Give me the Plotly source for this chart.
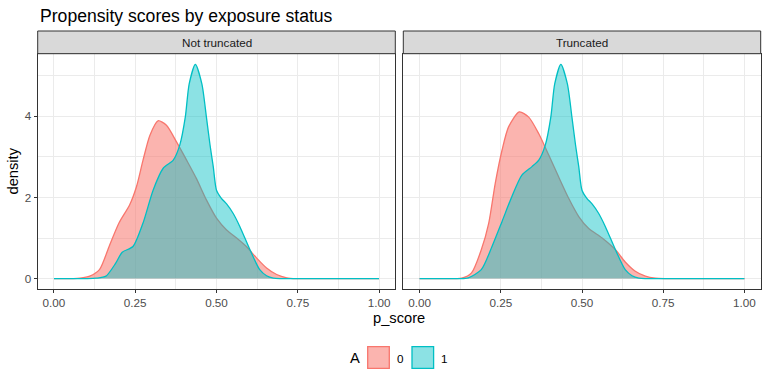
import plotly.graph_objects as go

# ---- data ----
panels = ["Not truncated", "Truncated"]
groups = ["0", "1"]

nt0_x = [0, 0.06, 0.08, 0.11, 0.14, 0.17, 0.20, 0.233, 0.254, 0.274, 0.295, 0.32, 0.346, 0.377, 0.408, 0.438, 0.469, 0.50, 0.531, 0.562, 0.592, 0.623, 0.654, 0.685, 0.716, 0.746, 0.78, 1.0]
nt0_y = [0, 0, 0.01, 0.06, 0.22, 0.80, 1.37, 1.82, 2.27, 2.92, 3.53, 3.89, 3.78, 3.37, 2.92, 2.47, 1.94, 1.49, 1.20, 1.00, 0.79, 0.51, 0.26, 0.10, 0.02, 0, 0, 0]

nt1_x = [0, 0.10, 0.13, 0.16, 0.19, 0.21, 0.243, 0.274, 0.305, 0.336, 0.367, 0.387, 0.404, 0.416, 0.435, 0.455, 0.469, 0.48, 0.49, 0.50, 0.515, 0.531, 0.551, 0.572, 0.603, 0.633, 0.654, 0.675, 0.70, 1.0]
nt1_y = [0, 0, 0.01, 0.06, 0.38, 0.65, 0.79, 1.37, 2.18, 2.72, 2.92, 3.29, 3.98, 4.80, 5.28, 4.80, 3.98, 3.30, 2.76, 2.18, 1.98, 1.84, 1.61, 1.28, 0.71, 0.22, 0.07, 0.01, 0, 0]

t0_x = [0, 0.11, 0.13, 0.16, 0.19, 0.213, 0.233, 0.254, 0.274, 0.307, 0.336, 0.367, 0.398, 0.428, 0.459, 0.49, 0.52, 0.562, 0.603, 0.633, 0.664, 0.695, 0.726, 0.76, 1.0]
t0_y = [0, 0, 0.01, 0.14, 0.71, 1.37, 2.35, 3.17, 3.74, 4.11, 3.98, 3.57, 3.04, 2.51, 1.98, 1.53, 1.24, 1.00, 0.71, 0.41, 0.18, 0.06, 0.01, 0, 0]

t1_x = [0, 0.12, 0.15, 0.19, 0.223, 0.254, 0.284, 0.315, 0.346, 0.367, 0.387, 0.404, 0.416, 0.435, 0.455, 0.469, 0.48, 0.49, 0.50, 0.515, 0.531, 0.551, 0.572, 0.603, 0.633, 0.654, 0.675, 0.70, 1.0]
t1_y = [0, 0, 0.02, 0.22, 0.79, 1.41, 2.02, 2.55, 2.76, 2.92, 3.29, 3.98, 4.80, 5.28, 4.80, 3.98, 3.30, 2.76, 2.18, 1.98, 1.84, 1.61, 1.28, 0.71, 0.22, 0.07, 0.01, 0, 0]

x_ticks = [0, 0.25, 0.5, 0.75, 1.0]
x_tick_labels = ["0.00", "0.25", "0.50", "0.75", "1.00"]
y_ticks = [0, 2, 4]

line_colors = {"0": "#F8766D", "1": "#00BFC4"}
fill_colors = {"0": "rgba(248,118,109,0.55)", "1": "rgba(0,191,196,0.45)"}

FONT = "Liberation Sans, Arial, sans-serif"
W, H = 768, 384
def px(x): return x / W
def py(y): return 1 - y / H

# panel geometry (pixels)
panel_top, panel_bot = 53.7, 289.3
strip_top = 31.0
left_dom = [px(37.7), px(395.3)]
right_dom = [px(403.3), px(760.7)]
ydom = [py(panel_bot), py(panel_top)]

fig = go.Figure()

series = [
    ("x", "y", nt0_x, nt0_y, "0"), ("x", "y", nt1_x, nt1_y, "1"),
    ("x2", "y2", t0_x, t0_y, "0"), ("x2", "y2", t1_x, t1_y, "1"),
]
for xa, ya, xs, ys, g in series:
    fig.add_trace(go.Scatter(
        x=xs, y=ys, xaxis=xa, yaxis=ya, mode="lines",
        line=dict(color=line_colors[g], width=1.3, shape="spline", smoothing=0.7),
        fill="tozeroy", fillcolor=fill_colors[g], showlegend=False,
        hoverinfo="skip"))

grid = "#EBEBEB"
tickfont = dict(family=FONT, size=11.7, color="#4D4D4D")
def xaxis(dom, anchor):
    return dict(domain=dom, anchor=anchor,
                range=[-0.05, 1.05], tickvals=x_ticks, ticktext=x_tick_labels,
                showgrid=True, gridcolor=grid, gridwidth=1.1,
                minor=dict(tickvals=[0.125, 0.375, 0.625, 0.875], showgrid=True, gridcolor=grid, gridwidth=0.55),
                ticks="outside", ticklen=3, tickcolor="#333333", tickwidth=1,
                tickfont=tickfont,
                showline=True, linecolor="#333333", linewidth=1, mirror=True,
                zeroline=False)
def yaxis(anchor, labels):
    return dict(domain=ydom, anchor=anchor, range=[-0.264, 5.544], tickvals=y_ticks,
                showticklabels=labels,
                showgrid=True, gridcolor=grid, gridwidth=1.1,
                minor=dict(tickvals=[1, 3, 5], showgrid=True, gridcolor=grid, gridwidth=0.55),
                ticks="outside" if labels else "", ticklen=3, tickcolor="#333333", tickwidth=1,
                tickfont=tickfont,
                showline=True, linecolor="#333333", linewidth=1, mirror=True,
                zeroline=False)

fig.update_layout(
    width=W, height=H, margin=dict(l=0, r=0, t=0, b=0),
    paper_bgcolor="white", plot_bgcolor="white",
    xaxis=xaxis(left_dom, "y"), xaxis2=xaxis(right_dom, "y2"),
    yaxis=yaxis("x", True), yaxis2=yaxis("x2", False),
    showlegend=False,
)

def label(x, y, text, size, color="black", xanchor="center", angle=0):
    fig.add_annotation(x=px(x), y=py(y), xref="paper", yref="paper",
                       xanchor=xanchor, yanchor="middle", text=text, showarrow=False,
                       textangle=angle, font=dict(family=FONT, size=size, color=color))

# strips
for dom, name in zip([left_dom, right_dom], panels):
    fig.add_shape(type="rect", xref="paper", yref="paper",
                  x0=dom[0], x1=dom[1], y0=py(panel_top), y1=py(strip_top),
                  fillcolor="#D9D9D9", line=dict(color="#333333", width=1))
    label((dom[0] + dom[1]) / 2 * W, (panel_top + strip_top) / 2, name, 11.7, "#1A1A1A")

# title and axis titles
label(38, 15.5, "Propensity scores by exposure status", 17.6, xanchor="left")
label(13, (panel_top + panel_bot) / 2, "density", 14.7, angle=-90)
label(399.2, 318, "p_score", 14.7)

# legend (manual, bottom centre)
label(355, 358, "A", 14.7)
for g, (x0, lx) in zip(groups, [(367.7, 400), (412, 444)]):
    fig.add_shape(type="rect", xref="paper", yref="paper",
                  x0=px(x0), x1=px(x0 + 21.6), y0=py(368.3), y1=py(346.7),
                  fillcolor=fill_colors[g], line=dict(color=line_colors[g], width=1.3))
    label(lx, 358, g, 11.7)

fig.write_html("out.html", config={"displayModeBar": False},
               post_script="document.body.style.margin='0';document.body.style.padding='0';")
